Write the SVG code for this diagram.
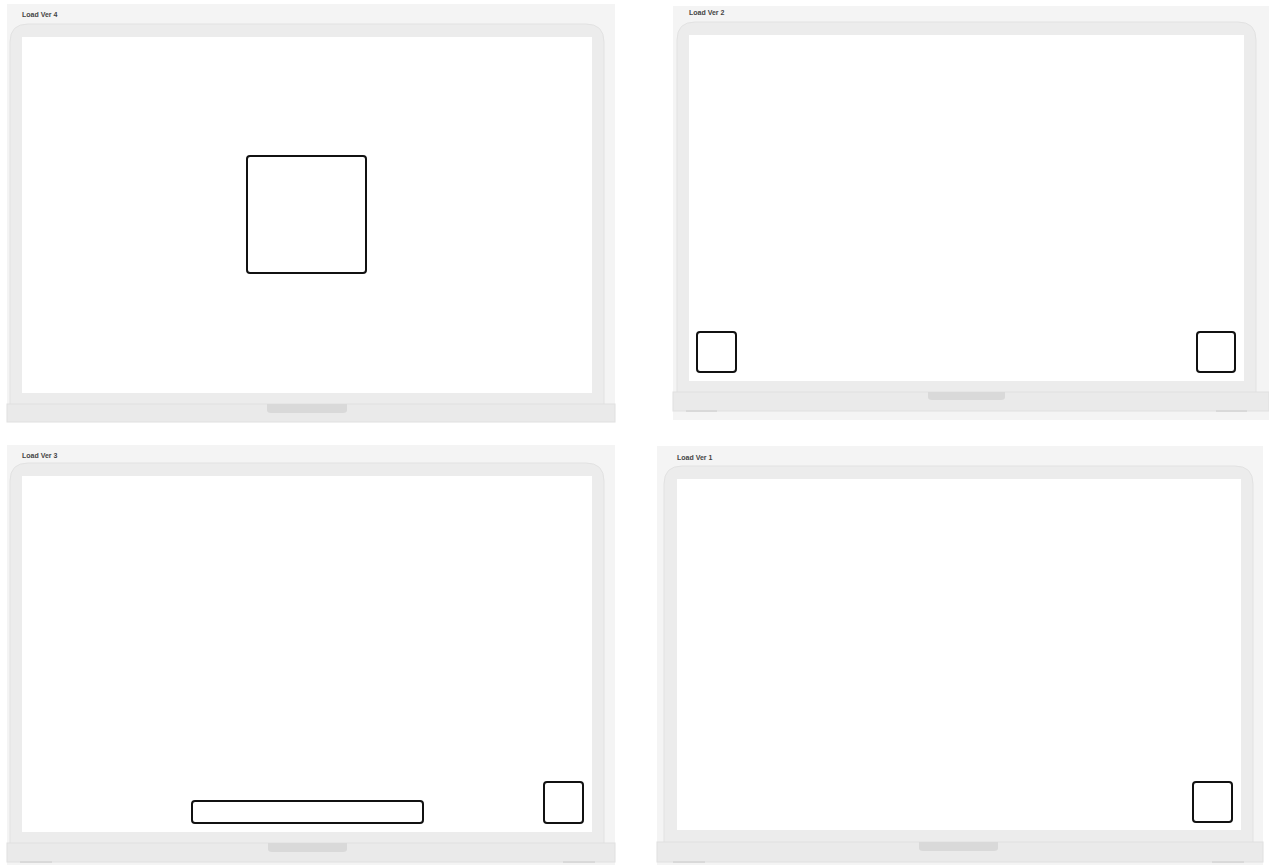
<svg xmlns="http://www.w3.org/2000/svg" width="1269" height="865" viewBox="0 0 1269 865">
<style>
.bg{fill:#f4f4f4}
.frame{fill:#ececec;stroke:#e2e2e2;stroke-width:1}
.screen{fill:#ffffff}
.base{fill:#eaeaea;stroke:#e0e0e0;stroke-width:1}
.notch{fill:#d9d9d9}
.foot{stroke:#d9d9d9;stroke-width:2}
.lbl{font-family:"Liberation Sans",Arial,sans-serif;font-size:7px;font-weight:bold;fill:#444}
.box{fill:none;stroke:#111;stroke-width:2}
</style>
<rect width="1269" height="865" fill="#ffffff"/>

<g id="panel-ver4">
<rect class="bg" x="7" y="4" width="608" height="418"/>
<text class="lbl" x="22" y="17">Load Ver 4</text>
<path class="frame" d="M10,410 V42 Q10,24 28,24 H586 Q604,24 604,42 V410 Z"/>
<rect class="screen" x="22" y="37" width="570" height="356"/>
<rect class="base" x="7" y="404" width="608" height="18"/>
<path class="notch" d="M267,404 H347 V410 Q347,413 343,413 H271 Q267,413 267,410 Z"/>
<rect id="ver4-box" class="box" x="247" y="156" width="119" height="117" rx="3"/>
</g>

<g id="panel-ver2">
<rect class="bg" x="673" y="6" width="596" height="414"/>
<text class="lbl" x="689" y="15">Load Ver 2</text>
<path class="frame" d="M677,398 V40 Q677,22 695,22 H1238 Q1256,22 1256,40 V398 Z"/>
<rect class="screen" x="689" y="35" width="555" height="346"/>
<rect class="base" x="673" y="392" width="596" height="19"/>
<path class="notch" d="M928,392 H1005 V397 Q1005,400 1001,400 H932 Q928,400 928,397 Z"/>
<line class="foot" x1="686" y1="411" x2="717" y2="411"/>
<line class="foot" x1="1216" y1="411" x2="1247" y2="411"/>
<rect id="ver2-box-left" class="box" x="697" y="332" width="39" height="40" rx="3"/>
<rect id="ver2-box-right" class="box" x="1197" y="332" width="38" height="40" rx="3"/>
</g>

<g id="panel-ver3">
<rect class="bg" x="7" y="445" width="608" height="420"/>
<text class="lbl" x="22" y="458">Load Ver 3</text>
<path class="frame" d="M10,850 V481 Q10,463 28,463 H586 Q604,463 604,481 V850 Z"/>
<rect class="screen" x="22" y="476" width="570" height="356"/>
<rect class="base" x="7" y="843" width="608" height="19"/>
<path class="notch" d="M268,843 H347 V849 Q347,852 343,852 H272 Q268,852 268,849 Z"/>
<line class="foot" x1="20" y1="862" x2="52" y2="862"/>
<line class="foot" x1="563" y1="862" x2="595" y2="862"/>
<rect id="ver3-bar" class="box" x="192" y="801" width="231" height="22" rx="3"/>
<rect id="ver3-box" class="box" x="544" y="782" width="39" height="41" rx="3"/>
</g>

<g id="panel-ver1">
<rect class="bg" x="657" y="446" width="606" height="419"/>
<text class="lbl" x="677" y="460">Load Ver 1</text>
<path class="frame" d="M664,850 V484 Q664,466 682,466 H1235 Q1253,466 1253,484 V850 Z"/>
<rect class="screen" x="677" y="479" width="564" height="351"/>
<rect class="base" x="657" y="842" width="606" height="20"/>
<path class="notch" d="M919,842 H998 V848 Q998,851 994,851 H923 Q919,851 919,848 Z"/>
<line class="foot" x1="673" y1="862" x2="705" y2="862"/>
<line class="foot" x1="1212" y1="862" x2="1244" y2="862"/>
<rect id="ver1-box" class="box" x="1193" y="782" width="39" height="40" rx="3"/>
</g>

<g id="connectors"></g>
</svg>
